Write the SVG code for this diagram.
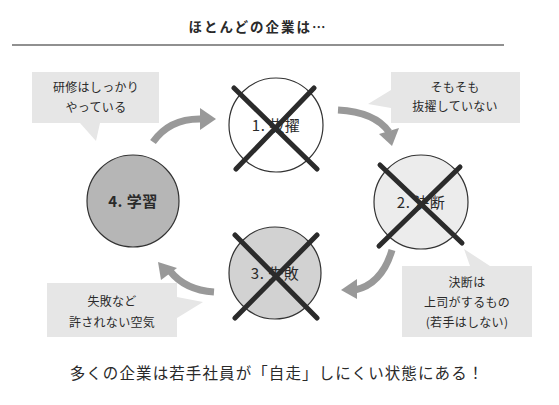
<svg xmlns="http://www.w3.org/2000/svg" width="559" height="405" viewBox="0 0 559 405">
<defs>
<style>
text{font-family:"Noto Sans CJK JP","Noto Sans",sans-serif;fill:#2a2a2a;text-anchor:middle}
.b{font-size:12px;letter-spacing:0.3px}
.n{font-size:15px;letter-spacing:0.5px}
.c{stroke:#333;stroke-width:1.2}
.x{stroke:#2b2b2b;stroke-width:5;stroke-linecap:round}
.bub{fill:#e6e6e6}
.arr{fill:none;stroke:#999;stroke-width:7}
.ah{fill:#999}
</style>
</defs>
<rect width="559" height="405" fill="#fff"/>
<text x="258" y="32" style="font-size:13.5px;font-weight:bold;letter-spacing:2px">ほとんどの企業は…</text>
<line x1="12" y1="45" x2="504" y2="45" stroke="#222" stroke-width="1.2"/>

<g id="connectors">
<path class="arr" d="M153,142 Q170,118 202,119"/>
<polygon class="ah" points="200,108 216,119 200,130"/>
<path class="arr" d="M338,110 Q375,112 389,132"/>
<polygon class="ah" points="379,134 392,146 399,128"/>
<path class="arr" d="M392,250 Q382,284 355,290"/>
<polygon class="ah" points="357,279 341,290 357,299"/>
<path class="arr" d="M214,292 Q185,290 170,271"/>
<polygon class="ah" points="158,262 161,280 177,268"/>
</g>

<g id="bubble-tl">
<path class="bub" d="M32,72 H159 V123 H100 L96,141 L80,123 H32 Z"/>
<text class="b" x="96" y="92">研修はしっかり</text>
<text class="b" x="96" y="112">やっている</text>
</g>
<g id="bubble-tr">
<path class="bub" d="M391,72 H520 V123 H391 V108 L368,104 L391,90 Z"/>
<text class="b" x="455" y="92">そもそも</text>
<text class="b" x="455" y="111">抜擢していない</text>
</g>
<g id="bubble-br">
<path class="bub" d="M402,266 H470 L464,249 L490,266 H532 V337 H402 Z"/>
<text class="b" x="467" y="287">決断は</text>
<text class="b" x="467" y="307">上司がするもの</text>
<text class="b" x="467" y="327">(若手はしない)</text>
</g>
<g id="bubble-bl">
<path class="bub" d="M47,283 H177 V297 L203,302 L177,318 V337 H47 Z"/>
<text class="b" x="112" y="306">失敗など</text>
<text class="b" x="112" y="327">許されない空気</text>
</g>

<g id="node1">
<circle class="c" cx="276" cy="125" r="47" fill="#fff"/>
<text class="n" x="276" y="131">1. 抜擢</text>
<line class="x" x1="234" y1="88" x2="317" y2="169"/>
<line class="x" x1="314" y1="88" x2="236" y2="169"/>
</g>
<g id="node2">
<circle class="c" cx="421" cy="202" r="47" fill="#ececec"/>
<text class="n" x="421" y="208">2. 決断</text>
<line class="x" x1="380" y1="165" x2="462" y2="243"/>
<line class="x" x1="460" y1="167" x2="379" y2="246"/>
</g>
<g id="node3">
<circle class="c" cx="275" cy="273" r="46" fill="#d2d2d2"/>
<text class="n" x="275" y="279">3. 失敗</text>
<line class="x" x1="235" y1="235" x2="317" y2="318"/>
<line class="x" x1="317" y1="235" x2="235" y2="318"/>
</g>
<g id="node4">
<circle class="c" cx="133" cy="201" r="46" fill="#b6b6b6"/>
<text class="n" x="133" y="207" style="font-weight:bold">4. 学習</text>
</g>

<text x="277" y="379" style="font-size:15.5px;letter-spacing:1.1px">多くの企業は若手社員が「自走」しにくい状態にある！</text>
</svg>
